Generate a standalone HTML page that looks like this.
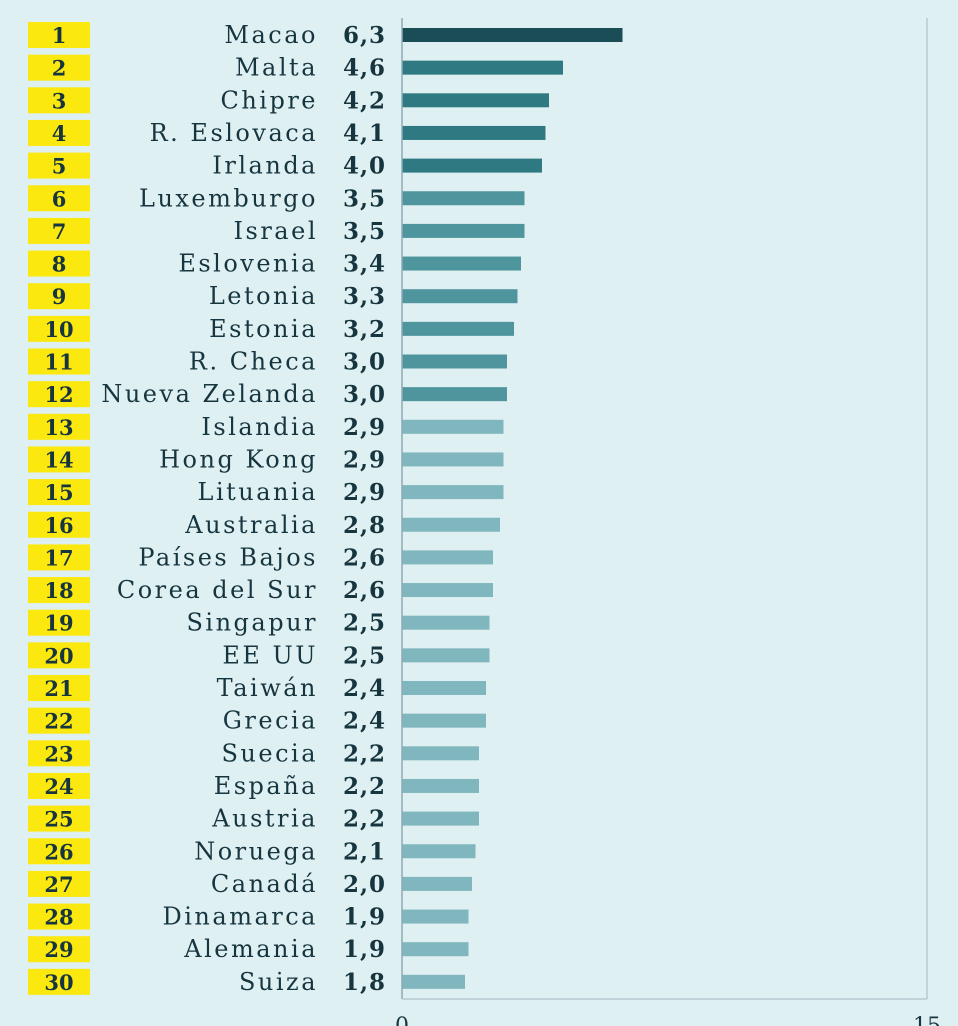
<!DOCTYPE html>
<html><head><meta charset="utf-8"><style>
body{margin:0;background:#dff0f3;}
svg{display:block;}
text{font-family:"DejaVu Serif","Liberation Serif",serif;fill:#16353f;}
</style></head><body>
<svg width="958" height="1026">
<rect width="958" height="1026" fill="#dff0f3"/>
<g id="rows"></g>
<line x1="402" y1="18" x2="402" y2="999" stroke="#8fa9b3" stroke-width="1.5"/>
<line x1="927" y1="18" x2="927" y2="999" stroke="#b5c9d0" stroke-width="1.5"/>
<line x1="402" y1="999" x2="927" y2="999" stroke="#b5c9d0" stroke-width="1.5"/>
<g id="ticks"></g>
</svg>
<script>
const countries=["Macao","Malta","Chipre","R. Eslovaca","Irlanda","Luxemburgo","Israel","Eslovenia","Letonia","Estonia","R. Checa","Nueva Zelanda","Islandia","Hong Kong","Lituania","Australia","Países Bajos","Corea del Sur","Singapur","EE UU","Taiwán","Grecia","Suecia","España","Austria","Noruega","Canadá","Dinamarca","Alemania","Suiza"];
const values=[6.3,4.6,4.2,4.1,4.0,3.5,3.5,3.4,3.3,3.2,3.0,3.0,2.9,2.9,2.9,2.8,2.6,2.6,2.5,2.5,2.4,2.4,2.2,2.2,2.2,2.1,2.0,1.9,1.9,1.8];
const tickValues=[0,15];
const x0=402,x1=927,vmax=15;
const xs=v=>x0+(v/vmax)*(x1-x0);
const ys=i=>35+i*32.65;
const NS="http://www.w3.org/2000/svg";
const rows=document.getElementById('rows');
function mk(tag,attrs,parent){const e=document.createElementNS(NS,tag);for(const k in attrs)e.setAttribute(k,attrs[k]);parent.appendChild(e);return e;}
countries.forEach((c,i)=>{
  const y=ys(i);
  const col=i===0?"#1a4d55":i<5?"#2f7a82":i<12?"#4f959d":"#80b6be";
  const box=mk('rect',{x:28,y:y-13,width:62,height:26,fill:"#fbe80e"},rows);
  
  
  const rt=mk('text',{x:59,y:y+8,'text-anchor':'middle','font-size':21,'font-weight':'bold'},rows);
  rt.textContent=i+1;
  
  
  const nt=mk('text',{x:318,y:y+8,'text-anchor':'end','font-size':24,'letter-spacing':'2.5'},rows);
  nt.textContent=c;
  
  
  const vt=mk('text',{x:386,y:y+8,'text-anchor':'end','font-size':23,'font-weight':'bold','letter-spacing':'1'},rows);
  vt.textContent=values[i].toFixed(1).replace('.',',');
  
  
  const b=mk('rect',{x:x0,y:y-7,width:xs(values[i])-x0,height:14,fill:col},rows);
  
  
});
const ticks=document.getElementById('ticks');
tickValues.forEach(t=>{
  const tt=mk('text',{x:xs(t),y:1033,'text-anchor':'middle','font-size':22},ticks);
  tt.textContent=t;
  
  
});
</script>
</body></html>
